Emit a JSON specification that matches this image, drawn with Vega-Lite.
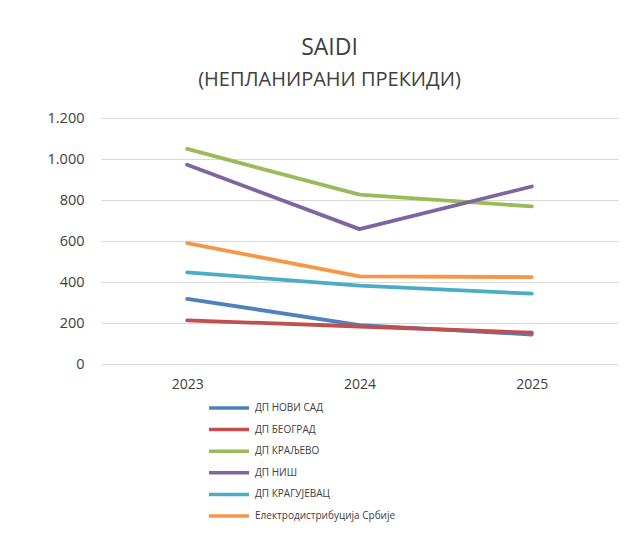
{
  "$schema": "https://vega.github.io/schema/vega-lite/v6.json",
  "width": 517,
  "height": 246,
  "autosize": "none",
  "padding": {"left": 101, "top": 118, "right": 20, "bottom": 175},
  "background": "white",
  "config": {
    "view": {"stroke": null},
    "font": "Open Sans"
  },
  "title": {
    "text": "SAIDI",
    "subtitle": "(НЕПЛАНИРАНИ ПРЕКИДИ)",
    "fontSize": 23,
    "fontWeight": "normal",
    "color": "#404040",
    "subtitleFontSize": 20,
    "subtitleColor": "#404040",
    "subtitlePadding": 10,
    "anchor": "middle",
    "dx": -30,
    "offset": 20,
    "font": "Open Sans",
    "subtitleFont": "Open Sans"
  },
  "data": {
    "values": [
      {"year": "2023", "series": "ДП НОВИ САД", "value": 318},
      {"year": "2024", "series": "ДП НОВИ САД", "value": 190},
      {"year": "2025", "series": "ДП НОВИ САД", "value": 144},
      {"year": "2023", "series": "ДП БЕОГРАД", "value": 213},
      {"year": "2024", "series": "ДП БЕОГРАД", "value": 183},
      {"year": "2025", "series": "ДП БЕОГРАД", "value": 153},
      {"year": "2023", "series": "ДП КРАЉЕВО", "value": 1049},
      {"year": "2024", "series": "ДП КРАЉЕВО", "value": 826},
      {"year": "2025", "series": "ДП КРАЉЕВО", "value": 769},
      {"year": "2023", "series": "ДП НИШ", "value": 972},
      {"year": "2024", "series": "ДП НИШ", "value": 658},
      {"year": "2025", "series": "ДП НИШ", "value": 866},
      {"year": "2023", "series": "ДП КРАГУЈЕВАЦ", "value": 447},
      {"year": "2024", "series": "ДП КРАГУЈЕВАЦ", "value": 382},
      {"year": "2025", "series": "ДП КРАГУЈЕВАЦ", "value": 343},
      {"year": "2023", "series": "Електродистрибуција Србије", "value": 590},
      {"year": "2024", "series": "Електродистрибуција Србије", "value": 427},
      {"year": "2025", "series": "Електродистрибуција Србије", "value": 424}
    ]
  },
  "mark": {"type": "line", "strokeWidth": 3.8, "strokeCap": "round", "strokeJoin": "round"},
  "encoding": {
    "x": {
      "field": "year",
      "type": "ordinal",
      "scale": {"paddingInner": 0, "paddingOuter": 0.5},
      "axis": {
        "title": null,
        "labelAngle": 0,
        "domain": false,
        "ticks": false,
        "labelFontSize": 14,
        "labelColor": "#404040",
        "labelPadding": 13,
        "labelFont": "Open Sans"
      }
    },
    "y": {
      "field": "value",
      "type": "quantitative",
      "scale": {"domain": [0, 1200], "nice": false},
      "axis": {
        "title": null,
        "values": [0, 200, 400, 600, 800, 1000, 1200],
        "labelExpr": "replace(format(datum.value, ','), ',', '.')",
        "domain": false,
        "ticks": false,
        "grid": true,
        "gridColor": "#D9D9D9",
        "gridWidth": 1,
        "labelFontSize": 14.5,
        "labelColor": "#404040",
        "labelPadding": 17,
        "labelFont": "Open Sans"
      }
    },
    "color": {
      "field": "series",
      "type": "nominal",
      "scale": {
        "domain": ["ДП НОВИ САД", "ДП БЕОГРАД", "ДП КРАЉЕВО", "ДП НИШ", "ДП КРАГУЈЕВАЦ", "Електродистрибуција Србије"],
        "range": ["#4F81BD", "#C0504D", "#9BBB59", "#8064A2", "#4BACC6", "#F79646"]
      },
      "legend": {
        "title": null,
        "orient": "none",
        "legendX": 106,
        "legendY": 284,
        "direction": "vertical",
        "symbolType": "stroke",
        "symbolSize": 1600,
        "symbolStrokeWidth": 3.5,
        "clipHeight": 12,
        "rowPadding": 9.6,
        "labelFontSize": 10,
        "labelColor": "#404040",
        "labelOffset": 4,
        "labelFont": "Open Sans"
      }
    }
  }
}
